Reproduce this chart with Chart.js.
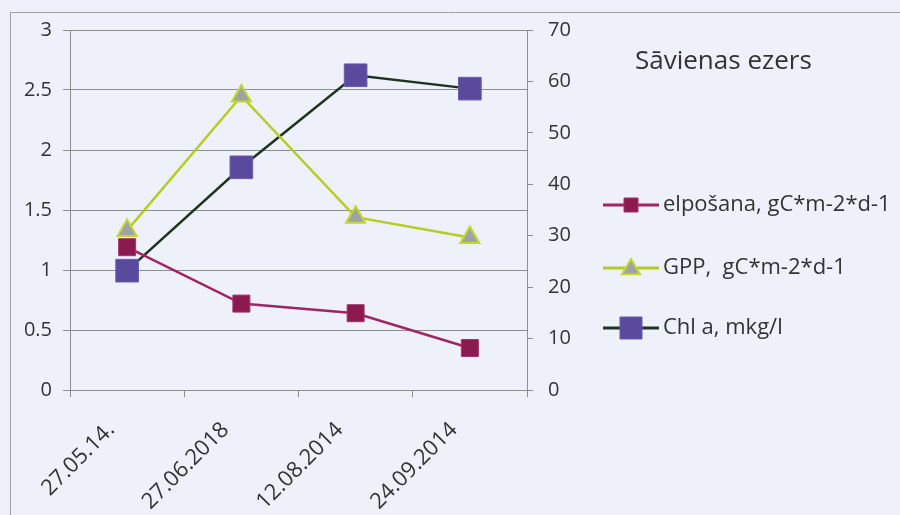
<!DOCTYPE html>
<html>
<head>
<meta charset="utf-8">
<script src="https://cdn.jsdelivr.net/npm/chart.js@4"></script>
<style>
  html, body { margin: 0; padding: 0; background: #eef1fa; }
  #wrap { width: 900px; height: 515px; position: relative; }
</style>
</head>
<body>
<div id="wrap"><canvas id="chart" width="900" height="515"></canvas></div>
<script>
// categories and series
const labels = ['27.05.14.', '27.06.2018', '12.08.2014', '24.09.2014'];
const elposana = [1.19, 0.72, 0.64, 0.35];   // left axis
const gpp = [1.33, 2.45, 1.44, 1.27];        // left axis
const chlA = [23.2, 43.3, 61.2, 58.6];       // right axis

const titleText = 'Sāvienas ezers';
const FONT = '"Open Sans", Lato, sans-serif';
const gridColor = '#8e8e8e';
const textColor = '#333333';

// background + outer frame
const framePlugin = {
    id: 'frame',
    beforeDraw(chart) {
        const ctx = chart.ctx;
        ctx.save();
        ctx.fillStyle = '#eef1fa';
        ctx.fillRect(0, 0, chart.width, chart.height);
        ctx.strokeStyle = '#a0a0a0';
        ctx.lineWidth = 1;
        ctx.beginPath();
        ctx.moveTo(10.5, chart.height);
        ctx.lineTo(10.5, 12.5);
        ctx.lineTo(chart.width, 12.5);
        ctx.stroke();
        ctx.restore();
    }
};

// title and legend at the right, Excel style (line + marker)
const sideLegend = {
    id: 'sideLegend',
    afterDraw(chart) {
        const ctx = chart.ctx;
        ctx.save();
        ctx.fillStyle = textColor;
        ctx.font = '26px ' + FONT;
        ctx.textBaseline = 'middle';
        ctx.fillText(titleText, 635, 62);

        const rows = [205, 268, 328];
        const sizes = [7, 9, 11];
        chart.data.datasets.forEach((ds, i) => {
            const y = rows[i];
            ctx.strokeStyle = ds.borderColor;
            ctx.lineWidth = 3;
            ctx.beginPath();
            ctx.moveTo(603, y);
            ctx.lineTo(659, y);
            ctx.stroke();
            const cx = 631, r = sizes[i];
            ctx.fillStyle = ds.pointBackgroundColor;
            ctx.strokeStyle = ds.pointBorderColor;
            ctx.lineWidth = ds.pointBorderWidth;
            ctx.beginPath();
            if (ds.pointStyle === 'triangle') {
                ctx.moveTo(cx, y - r);
                ctx.lineTo(cx + r, y + r * 0.7);
                ctx.lineTo(cx - r, y + r * 0.7);
                ctx.closePath();
            } else {
                ctx.rect(cx - r, y - r, 2 * r, 2 * r);
            }
            ctx.fill();
            ctx.stroke();
            ctx.fillStyle = textColor;
            ctx.font = '22px ' + FONT;
            ctx.fillText(ds.label, 663, y);
        });
        ctx.restore();
    }
};

const chart = new Chart(document.getElementById('chart').getContext('2d'), {
    type: 'line',
    data: {
        labels: labels,
        datasets: [
            {
                label: 'elpošana, gC*m-2*d-1',
                data: elposana,
                yAxisID: 'y',
                borderColor: '#a02563',
                borderWidth: 2.5,
                pointStyle: 'rect',
                pointRadius: 12,
                pointBackgroundColor: '#8a1a50',
                pointBorderColor: '#a3336b',
                pointBorderWidth: 1,
                tension: 0
            },
            {
                label: 'GPP,  gC*m-2*d-1',
                data: gpp,
                yAxisID: 'y',
                borderColor: '#b6cc24',
                borderWidth: 2.5,
                pointStyle: 'triangle',
                pointRadius: 11,
                pointBackgroundColor: '#9ea3a8',
                pointBorderColor: '#c2d82a',
                pointBorderWidth: 2,
                tension: 0
            },
            {
                label: 'Chl a, mkg/l',
                data: chlA,
                yAxisID: 'y1',
                borderColor: '#1f3420',
                borderWidth: 2.5,
                pointStyle: 'rect',
                pointRadius: 16,
                pointBackgroundColor: '#5a4a9e',
                pointBorderColor: '#6a5ab0',
                pointBorderWidth: 1,
                tension: 0
            }
        ]
    },
    options: {
        responsive: false,
        animation: false,
        layout: { padding: { top: 30, left: 0, right: 0, bottom: 0 } },
        plugins: {
            legend: { display: false },
            tooltip: { enabled: false }
        },
        scales: {
            x: {
                type: 'category',
                offset: true,
                grid: { drawOnChartArea: false, drawTicks: true, tickLength: 7, color: gridColor, offset: true },
                border: { display: true, color: gridColor },
                ticks: {
                    minRotation: 45, maxRotation: 45,
                    color: textColor, padding: 20, labelOffset: -16,
                    font: { family: FONT, size: 22 }
                },
                afterFit(s) { s.height = 125; }
            },
            y: {
                position: 'left',
                min: 0, max: 3,
                ticks: {
                    stepSize: 0.5, color: textColor, padding: 11,
                    font: { family: FONT, size: 20 },
                    callback: v => String(v)
                },
                grid: { color: gridColor, tickLength: 7 },
                border: { display: true, color: gridColor },
                afterFit(s) { s.width = 70; }
            },
            y1: {
                position: 'right',
                min: 0, max: 70,
                ticks: {
                    stepSize: 10, color: textColor, padding: 15,
                    font: { family: FONT, size: 20 }
                },
                grid: { drawOnChartArea: false, tickLength: 6, color: gridColor },
                border: { display: true, color: gridColor },
                afterFit(s) { s.width = 373; }
            }
        }
    },
    plugins: [framePlugin, sideLegend]
});
</script>
</body>
</html>
